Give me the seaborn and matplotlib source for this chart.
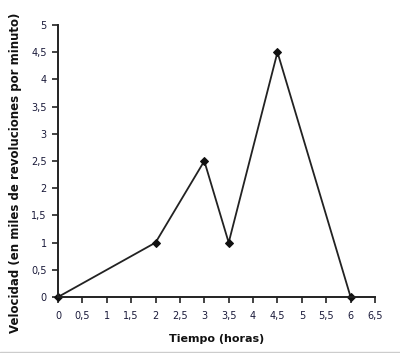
import matplotlib
matplotlib.use("Agg")
import matplotlib.pyplot as plt
import seaborn as sns
import pandas as pd
from matplotlib.lines import Line2D

tiempo = [0, 2, 3, 3.5, 4.5, 6]
velocidad = [0, 1, 2.5, 1, 4.5, 0]
x_ticks = [0, 0.5, 1, 1.5, 2, 2.5, 3, 3.5, 4, 4.5, 5, 5.5, 6, 6.5]
y_ticks = [0, 0.5, 1, 1.5, 2, 2.5, 3, 3.5, 4, 4.5, 5]

sns.set_style("ticks")
plt.rcParams['font.family'] = ['DejaVu Sans']

df = pd.DataFrame({"t": tiempo, "v": velocidad})

fig = plt.figure(figsize=(4.0, 3.53), dpi=100)
ax = fig.add_axes([0.145, 0.1586, 0.7925, 0.7706])
sns.lineplot(data=df, x="t", y="v", ax=ax, color="#222222", linewidth=1.3,
             marker="D", markersize=4.5, markeredgecolor="#111111",
             markerfacecolor="#111111", sort=False)

def fmt(v):
    return ("%g" % v).replace(".", ",")

ax.set_xlim(0, 6.5)
ax.set_ylim(0, 5)
ax.set_xticks(x_ticks)
ax.set_xticklabels([fmt(v) for v in x_ticks])
ax.set_yticks(y_ticks)
ax.set_yticklabels([fmt(v) for v in y_ticks])
ax.tick_params(axis="both", direction="out", length=4, width=1.2, color="#222222",
               labelsize=7, labelcolor="#1a1a3a")
ax.tick_params(axis="x", pad=6)
ax.tick_params(axis="y", pad=4)
for s in ["top", "right"]:
    ax.spines[s].set_visible(False)
for s in ["left", "bottom"]:
    ax.spines[s].set_color("#222222")
    ax.spines[s].set_linewidth(1.4)
for line in ax.lines:
    line.set_clip_on(False)

ax.set_xlabel("Tiempo (horas)", fontsize=8, fontweight="bold", color="#111111")
ax.set_ylabel("Velocidad (en miles de revoluciones por minuto)", fontsize=8.5,
              fontweight="bold", color="#111111")
ax.xaxis.set_label_coords(0.5, -0.135)
ax.yaxis.set_label_coords(-0.115, 0.455)

fig.add_artist(Line2D([0, 1], [0.004, 0.004], color="#cccccc", linewidth=1, transform=fig.transFigure))

fig.savefig("out.png", dpi=100)
